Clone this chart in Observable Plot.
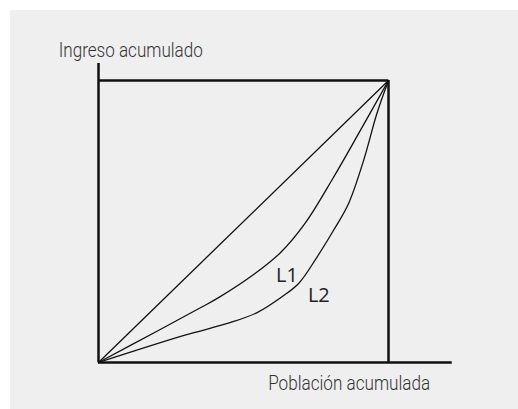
<!DOCTYPE html>
<html><head><meta charset="utf-8">
<script src="https://cdn.jsdelivr.net/npm/d3@7"></script>
<script src="https://cdn.jsdelivr.net/npm/@observablehq/plot@0.6"></script>
<style>
html,body{margin:0;padding:0;background:#fff;}
#bg{position:absolute;left:10px;top:10px;width:508px;height:399px;background:#efefef;}
#chart{position:absolute;left:0;top:0;}
</style></head><body><div id="bg"></div><div id="chart"></div>
<script>
// Lorenz curves (cumulative population share -> cumulative income share)
const l1X = [0, 0.20, 0.353, 0.414, 0.535, 0.628, 0.714, 0.81, 0.903, 1];
const l1Y = [0, 0.11, 0.195, 0.23, 0.312, 0.39, 0.496, 0.656, 0.823, 1];
const l2X = [0, 0.295, 0.456, 0.547, 0.634, 0.69, 0.753, 0.81, 0.862, 0.914, 0.96, 1];
const l2Y = [0, 0.096, 0.142, 0.177, 0.234, 0.28, 0.373, 0.468, 0.563, 0.716, 0.883, 1];
const equalityX = [0, 1];
const equalityY = [0, 1];
const axisXEnd = 1.22;
const axisYEnd = 1.06;
const curveLabels = ["L1", "L2"];
const curveLabelX = [0.612, 0.722];
const curveLabelY = [0.287, 0.213];
const axisTitles = ["Ingreso acumulado", "Población acumulada"];
const axisTitleX = [-0.137, 0.585];
const axisTitleY = [1.085, -0.097];

const l1 = l1X.map((x, i) => ({x, y: l1Y[i]}));
const l2 = l2X.map((x, i) => ({x, y: l2Y[i]}));
const eq = equalityX.map((x, i) => ({x, y: equalityY[i]}));
const labels = curveLabels.map((t, i) => ({t, x: curveLabelX[i], y: curveLabelY[i]}));
const titles = axisTitles.map((t, i) => ({t, x: axisTitleX[i], y: axisTitleY[i]}));

const plot = Plot.plot({
  width: 518, height: 409,
  marginLeft: 98, marginRight: 130, marginTop: 80, marginBottom: 47,
  x: {domain: [0, 1], axis: null},
  y: {domain: [0, 1], axis: null},
  style: {background: "transparent", overflow: "visible"},
  marks: [
    Plot.line(eq, {x: "x", y: "y", stroke: "#111", strokeWidth: 1.3}),
    Plot.line(l1, {x: "x", y: "y", stroke: "#111", strokeWidth: 1.3, curve: "catmull-rom"}),
    Plot.line(l2, {x: "x", y: "y", stroke: "#111", strokeWidth: 1.3, curve: "catmull-rom"}),
    Plot.ruleY([1], {x1: 0, x2: 1, stroke: "#111", strokeWidth: 2.5}),
    Plot.ruleX([1], {y1: 0, y2: 1, stroke: "#111", strokeWidth: 2.5}),
    Plot.ruleX([0], {y1: 0, y2: axisYEnd, stroke: "#111", strokeWidth: 2.5}),
    Plot.ruleY([0], {x1: 0, x2: axisXEnd, stroke: "#111", strokeWidth: 2.5}),
    Plot.text(labels, {x: "x", y: "y", text: "t", textAnchor: "start", lineAnchor: "bottom",
      fontSize: 20, fontFamily: "Open Sans", fill: "#222"}),
    Plot.text(titles, {x: "x", y: "y", text: "t", textAnchor: "start", lineAnchor: "bottom",
      fontSize: 20, fontFamily: "Roboto", fontWeight: 300, fill: "#333", className: "axtitle"})
  ]
});
document.getElementById("chart").appendChild(plot);
const widths = {"Ingreso acumulado": 144, "Población acumulada": 162};
d3.select(plot).selectAll("text").each(function() {
  const t = this.textContent;
  if (widths[t]) {
    this.setAttribute("textLength", widths[t]);
    this.setAttribute("lengthAdjust", "spacingAndGlyphs");
  }
});
</script></body></html>
